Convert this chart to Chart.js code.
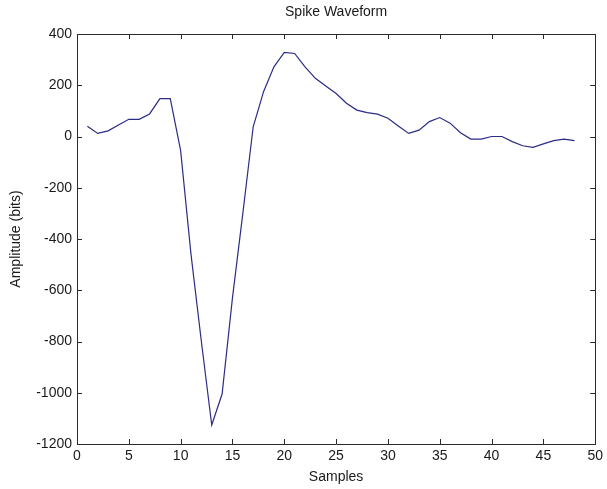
<!DOCTYPE html>
<html>
<head>
<meta charset="utf-8">
<script src="https://cdn.jsdelivr.net/npm/chart.js@4/dist/chart.umd.min.js"></script>
<style>
  html, body { margin: 0; padding: 0; background: #fff; }
  canvas { display: block; }
</style>
</head>
<body>
<canvas id="spikeChart" width="607" height="489"></canvas>
<script>
const samples = [1, 2, 3, 4, 5, 6, 7, 8, 9, 10, 11, 12, 13, 14, 15, 16, 17, 18, 19, 20, 21, 22, 23, 24,
  25, 26, 27, 28, 29, 30, 31, 32, 33, 34, 35, 36, 37, 38, 39, 40, 41, 42, 43, 44, 45, 46, 47, 48];
const amplitude = [40, 12, 22, 45, 67, 67, 88, 148, 148, -55, -460, -800, -1126, -1005, -630, -300,
  38, 175, 272, 328, 324, 272, 227, 197, 168, 130, 103, 93, 87, 71, 41, 12,
  25, 58, 74, 52, 15, -10, -10, 0, 0, -20, -36, -42, -29, -16, -10, -16];
const xTicks = [0, 5, 10, 15, 20, 25, 30, 35, 40, 45, 50];
const yTicks = [-1200, -1000, -800, -600, -400, -200, 0, 200, 400];

const font = { family: "'Liberation Sans', Arial, sans-serif", size: 14 };
const axisColor = '#2a2a2a';
const textColor = '#1a1a1a';

// MATLAB style: tick marks point into the plot on all four sides
const insideTicks = {
  id: 'insideTicks',
  afterDraw(chart) {
    const { ctx, chartArea: a, scales } = chart;
    const len = 5;
    ctx.save();
    ctx.strokeStyle = axisColor;
    ctx.lineWidth = 1;
    ctx.beginPath();
    xTicks.forEach(v => {
      const px = Math.round(scales.x.getPixelForValue(v)) + 0.5;
      ctx.moveTo(px, a.bottom); ctx.lineTo(px, a.bottom - len);
      ctx.moveTo(px, a.top); ctx.lineTo(px, a.top + len);
    });
    yTicks.forEach(v => {
      const py = Math.round(scales.y.getPixelForValue(v)) + 0.5;
      ctx.moveTo(a.left, py); ctx.lineTo(a.left + len, py);
      ctx.moveTo(a.right, py); ctx.lineTo(a.right - len, py);
    });
    ctx.stroke();
    ctx.restore();
  }
};

const noGrid = { display: false, drawTicks: false };
const border = { display: true, color: axisColor, width: 1 };

new Chart(document.getElementById('spikeChart'), {
  type: 'line',
  data: {
    datasets: [{
      data: samples.map((s, i) => ({ x: s, y: amplitude[i] })),
      borderColor: '#2b2b88',
      borderWidth: 1.2,
      pointRadius: 0,
      tension: 0,
      fill: false
    }]
  },
  options: {
    responsive: false,
    animation: false,
    layout: { padding: 0 },
    plugins: {
      legend: { display: false },
      tooltip: { enabled: false }
    },
    scales: {
      x: {
        type: 'linear',
        position: 'bottom',
        min: 0, max: 50,
        afterBuildTicks: s => { s.ticks = xTicks.map(v => ({ value: v })); },
        afterFit: s => { s.height = 45; },
        grid: noGrid,
        border,
        ticks: { font, color: textColor, padding: 4, maxRotation: 0, callback: v => String(v) },
        title: { display: true, text: 'Samples', font, color: textColor, padding: { top: 0, bottom: 3 } }
      },
      xTop: {
        type: 'linear',
        position: 'top',
        min: 0, max: 50,
        afterFit: s => { s.height = 34; },
        grid: noGrid,
        border,
        ticks: { display: false },
        title: { display: true, text: 'Spike Waveform', font, color: textColor, padding: { top: 4, bottom: 0 } }
      },
      y: {
        type: 'linear',
        position: 'left',
        min: -1200, max: 400,
        afterBuildTicks: s => { s.ticks = yTicks.map(v => ({ value: v })); },
        afterFit: s => { s.width = 77; },
        grid: noGrid,
        border,
        ticks: { font, color: textColor, padding: 5, callback: v => String(v) },
        title: { display: true, text: 'Amplitude (bits)', font, color: textColor, padding: { top: 8, bottom: 0 } }
      },
      yRight: {
        type: 'linear',
        position: 'right',
        min: -1200, max: 400,
        afterFit: s => { s.width = 10; },
        grid: noGrid,
        border,
        ticks: { display: false }
      }
    }
  },
  plugins: [insideTicks]
});
</script>
</body>
</html>
